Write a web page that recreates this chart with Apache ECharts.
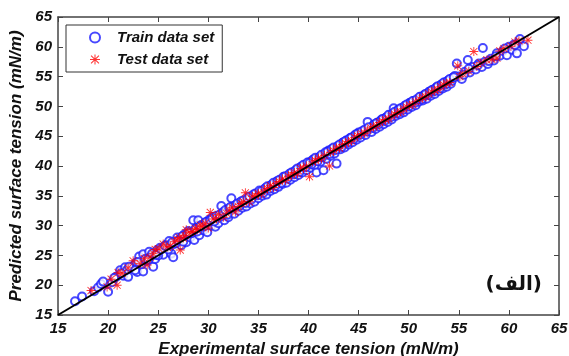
<!DOCTYPE html>
<html>
<head>
<meta charset="utf-8">
<script src="https://cdn.jsdelivr.net/npm/echarts@6/dist/echarts.min.js"></script>
<style>
    html, body { margin: 0; padding: 0; background: #fff; }
    /* chart size */
    #chart { width: 569px; height: 356px; }
</style>
</head>
<body>
<div id="chart"></div>
<script>
// axis ticks
var axisTicks = [15, 20, 25, 30, 35, 40, 45, 50, 55, 60, 65];

// train data set: experimental / predicted
var trainX = [16.7, 17.4, 18.6, 19.0, 19.3, 19.5, 20.0, 20.4, 20.8, 21.2, 21.5, 21.7, 22.0, 22.3, 22.6, 22.9, 23.1, 23.5, 23.5, 23.8,
    24.1, 24.5, 24.7, 24.9, 25.2, 25.5, 25.8, 26.1, 26.3, 26.5, 26.6, 26.9, 27.2, 27.3, 27.6, 27.8, 28.0, 28.2, 28.5, 28.6,
    28.8, 29.0, 29.1, 29.3, 29.5, 29.7, 29.9, 30.1, 30.3, 30.5, 30.7, 30.9, 31.0, 31.3, 31.4, 31.6, 31.8, 32.0, 32.3, 32.4,
    32.6, 32.8, 33.0, 33.2, 33.4, 33.6, 33.8, 34.0, 34.2, 34.4, 34.6, 34.8, 35.0, 35.2, 35.4, 35.6, 35.8, 36.0, 36.2, 36.4,
    36.6, 36.8, 37.0, 37.2, 37.4, 37.6, 37.8, 38.0, 38.2, 38.4, 38.6, 38.8, 39.0, 39.2, 39.4, 39.6, 39.8, 40.0, 40.2, 40.4,
    40.6, 40.8, 41.0, 41.2, 41.5, 41.6, 41.8, 42.0, 42.2, 42.4, 42.6, 42.8, 43.0, 43.2, 43.4, 43.6, 43.8, 44.0, 44.2, 44.4,
    44.6, 44.8, 45.0, 45.2, 45.5, 45.7, 45.9, 46.1, 46.3, 46.5, 46.7, 46.9, 47.1, 47.3, 47.5, 47.7, 47.9, 48.1, 48.3, 48.5,
    48.7, 48.9, 49.1, 49.3, 49.5, 49.7, 49.9, 50.1, 50.3, 50.5, 50.7, 51.0, 51.2, 51.4, 51.6, 51.8, 52.0, 52.2, 52.4, 52.6,
    52.8, 53.0, 53.2, 53.4, 53.6, 53.8, 54.0, 54.2, 54.4, 54.8, 55.0, 55.3, 55.6, 55.9, 56.1, 56.4, 56.7, 57.0, 57.4, 57.3,
    57.6, 57.9, 58.2, 58.5, 58.8, 59.1, 59.4, 59.8, 60.0, 60.3, 60.5, 60.8, 61.0, 61.1, 61.5,
    21.9, 22.8, 23.3, 24.3, 25.0, 25.6, 26.0, 26.8, 27.4, 28.3, 28.9, 29.6, 30.0, 30.6, 31.2, 31.9, 32.5, 33.1, 33.7, 34.3,
    34.9, 35.5, 36.1, 36.7, 37.3, 37.9, 38.5, 39.1, 39.7, 40.3, 40.9, 41.4, 42.1, 42.7, 43.3, 43.9, 44.5, 45.1, 45.8, 46.4,
    47.0, 47.6, 48.2, 48.8, 49.4, 50.0, 50.6, 51.3, 51.9, 52.5, 53.1, 53.7, 54.3, 54.6, 55.5,
    20.6, 21.3, 22.1, 22.7, 23.0, 23.7, 24.0, 24.4, 24.8, 25.3, 25.7, 26.2, 26.4, 27.0, 27.5, 27.9, 28.1, 28.7, 29.2, 29.8,
    30.2, 30.4, 30.8, 31.1, 31.5, 31.7, 32.1, 32.2, 32.7, 32.9, 33.3, 33.5, 33.9, 34.1, 34.5, 34.7, 35.1, 35.3, 35.7, 35.9,
    36.3, 36.5, 36.9, 37.1, 37.5, 37.7, 38.1, 38.3, 38.7, 38.9, 39.3, 39.5, 39.9, 40.1, 40.5, 40.7, 41.1, 41.3, 41.7, 41.9,
    42.3, 42.5, 42.9, 43.1, 43.5, 43.7, 44.1, 44.3, 44.7, 44.9, 45.3, 45.6, 46.0, 46.6, 46.8, 47.2, 47.4, 47.8, 48.0, 48.4,
    48.6, 49.0, 49.2, 49.6, 49.8, 50.2, 50.4, 50.8, 51.1, 51.5, 51.7, 52.1, 52.3, 52.7, 52.9, 53.3, 53.5, 53.9, 54.1, 54.5,
    56.0, 56.9, 58.0, 58.7, 59.6, 60.6];
var trainY = [17.3, 18.1, 19.0, 19.6, 20.2, 20.6, 18.9, 20.5, 21.4, 22.5, 21.6, 23.0, 21.4, 22.9, 23.4, 22.2, 24.8, 22.3, 25.2, 24.1,
    25.6, 23.1, 24.4, 25.9, 26.3, 25.1, 26.8, 27.4, 25.3, 24.7, 26.9, 28.0, 27.8, 26.7, 28.5, 27.2, 29.1, 28.0, 30.9, 27.6,
    29.6, 30.9, 28.4, 30.1, 29.2, 30.5, 28.9, 31.0, 30.0, 31.5, 29.8, 31.2, 30.4, 33.3, 31.9, 30.9, 32.4, 31.4, 34.6, 32.8,
    32.0, 33.4, 32.5, 33.9, 33.0, 34.1, 33.2, 34.5, 33.7, 34.9, 34.0, 35.3, 34.6, 35.7, 35.0, 36.1, 35.2, 36.5, 35.8, 36.9,
    36.1, 37.3, 36.5, 37.6, 37.0, 38.1, 37.2, 38.4, 37.7, 38.9, 38.1, 39.2, 38.5, 39.8, 38.9, 40.1, 39.3, 40.6, 39.7, 41.0,
    40.1, 38.9, 41.4, 40.7, 39.3, 42.0, 41.2, 42.6, 41.7, 42.9, 42.1, 40.4, 43.4, 42.8, 43.9, 43.1, 44.3, 43.6, 44.7, 44.0,
    45.1, 44.4, 45.6, 44.8, 45.9, 45.2, 47.4, 46.2, 45.7, 46.9, 46.2, 47.3, 46.6, 47.8, 47.0, 48.1, 47.4, 48.5, 47.8, 49.7,
    48.4, 49.3, 48.7, 49.7, 49.0, 50.1, 49.5, 50.6, 49.9, 50.9, 50.2, 50.8, 51.6, 51.0, 52.0, 51.3, 52.4, 51.8, 52.8, 52.1,
    53.2, 52.6, 53.6, 53.0, 54.0, 53.3, 54.4, 53.8, 54.8, 57.2, 55.0, 54.6, 55.8, 57.8, 55.7, 56.6, 56.2, 57.2, 59.8, 56.6,
    57.5, 57.1, 58.0, 57.7, 58.9, 58.5, 59.3, 58.6, 60.0, 59.5, 60.4, 58.9, 60.7, 61.3, 60.1,
    22.6, 23.8, 23.5, 24.9, 25.0, 26.4, 26.0, 27.1, 28.2, 28.7, 29.0, 29.9, 30.6, 30.7, 31.5, 31.8, 33.0, 33.3, 33.8, 34.4,
    35.1, 35.5, 36.2, 36.7, 37.2, 37.9, 38.6, 39.0, 39.8, 40.3, 40.8, 41.5, 42.0, 42.7, 43.2, 43.9, 44.5, 45.2, 45.8, 46.4,
    47.0, 47.6, 48.2, 48.8, 49.4, 50.0, 50.6, 51.2, 51.9, 52.5, 53.0, 53.7, 54.3, 55.1, 55.3,
    21.2, 22.0, 23.1, 22.5, 23.9, 24.4, 24.3, 25.3, 25.1, 26.0, 26.6, 26.8, 27.2, 27.5, 27.3, 28.6, 28.8, 29.4, 29.9, 30.6,
    30.9, 31.2, 31.6, 31.8, 32.3, 32.6, 32.9, 33.1, 33.4, 33.7, 34.1, 34.2, 34.6, 34.9, 35.2, 35.4, 35.9, 35.8, 36.3, 36.6,
    36.8, 37.2, 37.5, 37.7, 38.2, 38.3, 38.7, 38.9, 39.3, 39.6, 39.9, 40.2, 40.6, 40.5, 41.1, 41.4, 41.5, 41.9, 42.3, 42.4,
    42.8, 43.1, 43.3, 43.6, 44.0, 44.2, 44.6, 44.8, 45.3, 45.4, 45.8, 46.1, 46.5, 47.0, 47.2, 47.6, 47.9, 48.2, 48.6, 48.8,
    49.1, 49.5, 49.7, 50.1, 50.3, 50.6, 50.9, 51.2, 51.6, 51.8, 52.1, 52.5, 52.7, 53.1, 53.4, 53.7, 54.0, 54.3, 54.6, 54.9,
    56.3, 56.9, 57.6, 58.4, 59.7, 60.3];

// test data set: experimental / predicted
var testX = [18.3, 19.9, 20.9, 21.0, 21.4, 22.5, 23.2, 23.9, 24.2, 24.7, 25.5, 26.2, 26.9, 27.2, 27.5, 27.8, 28.4, 28.9, 29.4, 30.0,
    30.2, 30.8, 31.5, 32.1, 32.7, 33.3, 33.7, 34.1, 34.7, 35.3, 35.9, 36.5, 37.1, 37.7, 38.3, 38.9, 39.5, 40.1, 40.7, 41.3,
    42.1, 42.5, 43.1, 43.7, 44.3, 44.9, 45.6, 46.2, 46.8, 47.4, 48.0, 48.6, 49.2, 49.8, 50.4, 51.1, 51.7, 52.3, 52.9, 53.5,
    54.1, 54.9, 55.4, 56.0, 56.5, 57.2, 57.8, 58.8, 59.5, 60.2, 61.0, 61.9,
    20.3, 22.0, 23.6, 24.5, 25.1, 25.9, 26.6, 27.1, 27.7, 28.2, 28.7, 29.2, 29.7, 30.5, 31.0, 31.8, 32.4, 33.0, 33.5, 34.4,
    35.0, 35.6, 36.2, 36.8, 37.4, 38.0, 38.6, 39.2, 39.8, 40.4, 41.0, 41.6, 42.2, 42.8, 43.4, 44.0, 44.6, 45.3, 45.9, 46.5,
    47.1, 47.7, 48.3, 48.9, 49.5, 50.1, 50.7, 51.4, 52.0, 52.6, 53.2, 53.8, 55.1, 56.8, 58.3, 59.1, 60.6];
var testY = [19.1, 19.7, 20.0, 22.1, 22.0, 24.1, 23.6, 23.4, 24.7, 26.0, 26.9, 26.5, 27.6, 25.9, 27.9, 29.3, 29.0, 29.3, 29.8, 29.6,
    32.2, 31.1, 31.4, 32.6, 32.3, 33.7, 35.5, 34.0, 35.0, 35.3, 36.2, 36.4, 37.4, 37.6, 38.5, 38.7, 39.6, 38.2, 40.9, 41.2,
    40.0, 42.6, 43.0, 43.8, 44.2, 45.1, 45.5, 46.4, 46.7, 47.5, 47.9, 48.7, 49.1, 49.9, 50.3, 51.2, 51.6, 52.4, 52.8, 53.6,
    54.0, 56.8, 55.5, 55.9, 59.2, 57.3, 57.8, 58.1, 59.7, 60.1, 61.0, 61.1,
    21.0, 22.9, 24.5, 25.3, 26.1, 26.4, 27.3, 28.0, 28.3, 28.8, 29.5, 30.1, 30.4, 31.1, 31.9, 32.1, 33.0, 33.2, 34.0, 34.9,
    35.4, 36.0, 36.7, 37.1, 37.8, 38.3, 38.9, 39.6, 40.0, 40.7, 41.3, 41.8, 42.3, 43.0, 43.6, 44.1, 44.8, 45.4, 46.0, 46.6,
    47.3, 47.8, 48.4, 49.0, 49.6, 50.2, 50.8, 51.5, 52.1, 52.7, 53.3, 53.9, 55.0, 56.7, 57.9, 59.3, 60.8];

// y = x reference line
var diagLine = [15, 65];

function pairs(xs, ys) {
    var out = [];
    for (var i = 0; i < xs.length; i++) out.push([xs[i], ys[i]]);
    return out;
}

// asterisk marker, like matlab '*'
var starPath = 'path://M9,0 H11 V20 H9 Z M0,9 H20 V11 H0 Z ' +
    'M1.4,2.8 L2.8,1.4 L18.6,17.2 L17.2,18.6 Z M17.2,1.4 L18.6,2.8 L2.8,18.6 L1.4,17.2 Z';

var fontMain = '"Liberation Sans", Arial, sans-serif';
var labelStyle = {
    fontFamily: fontMain,
    fontWeight: 'bold',
    fontStyle: 'italic',
    fontSize: 15,
    color: '#111'
};

function valueAxis(extra) {
    var ax = {
        type: 'value',
        min: axisTicks[0],
        max: axisTicks[axisTicks.length - 1],
        interval: 5,
        splitLine: { show: false },
        axisLine: { show: true, onZero: false, lineStyle: { color: '#444', width: 1.5 } },
        axisTick: { show: true, inside: true, length: 5, lineStyle: { color: '#444', width: 1 } },
        axisLabel: Object.assign({ margin: 6 }, labelStyle)
    };
    return Object.assign(ax, extra);
}

var chart = echarts.init(document.getElementById('chart'));
var option = {
    animation: false,
    backgroundColor: '#fff',
    grid: { left: 58, right: 10, top: 17, bottom: 41, outerBoundsMode: 'none' },
    legend: {
        orient: 'vertical',
        left: 66,
        top: 25,
        padding: [5, 8, 5, 23],
        itemWidth: 10,
        itemHeight: 10,
        itemGap: 7,
        borderColor: '#333',
        borderWidth: 1,
        backgroundColor: '#fff',
        data: ['Train data set', 'Test data set'],
        textStyle: {
            fontFamily: fontMain,
            fontWeight: 'bold',
            fontStyle: 'italic',
            fontSize: 15,
            color: '#111',
            padding: [0, 0, 0, 12]
        }
    },
    xAxis: [
        valueAxis({
            position: 'bottom',
            name: 'Experimental surface tension (mN/m)',
            nameLocation: 'middle',
            nameGap: 22,
            nameTextStyle: Object.assign({}, labelStyle, { fontSize: 17 })
        }),
        valueAxis({ position: 'top', axisLabel: { show: false } })
    ],
    yAxis: [
        valueAxis({
            position: 'left',
            name: 'Predicted surface tension (mN/m)',
            nameLocation: 'middle',
            nameGap: 27,
            nameTextStyle: Object.assign({}, labelStyle, { fontSize: 17 })
        }),
        valueAxis({ position: 'right', axisLabel: { show: false } })
    ],
    graphic: [{
        type: 'text',
        right: 27,
        top: 275,
        style: {
            text: '(الف)',
            fontFamily: '"DejaVu Sans", sans-serif',
            fontWeight: 'bold',
            fontSize: 20,
            fill: '#111'
        }
    }],
    series: [{
        name: 'Train data set',
        type: 'scatter',
        symbol: 'emptyCircle',
        symbolSize: 8,
        itemStyle: { color: '#1a1aff', borderColor: '#1a1aff', borderWidth: 1 },
        data: pairs(trainX, trainY),
        z: 2
    }, {
        name: 'Test data set',
        type: 'scatter',
        symbol: starPath,
        symbolSize: 9,
        itemStyle: { color: '#ff0000' },
        data: pairs(testX, testY),
        z: 3
    }, {
        name: 'y=x',
        type: 'line',
        symbol: 'none',
        lineStyle: { color: '#000', width: 2 },
        data: pairs(diagLine, diagLine),
        z: 4
    }]
};
chart.setOption(option);
</script>
</body>
</html>
